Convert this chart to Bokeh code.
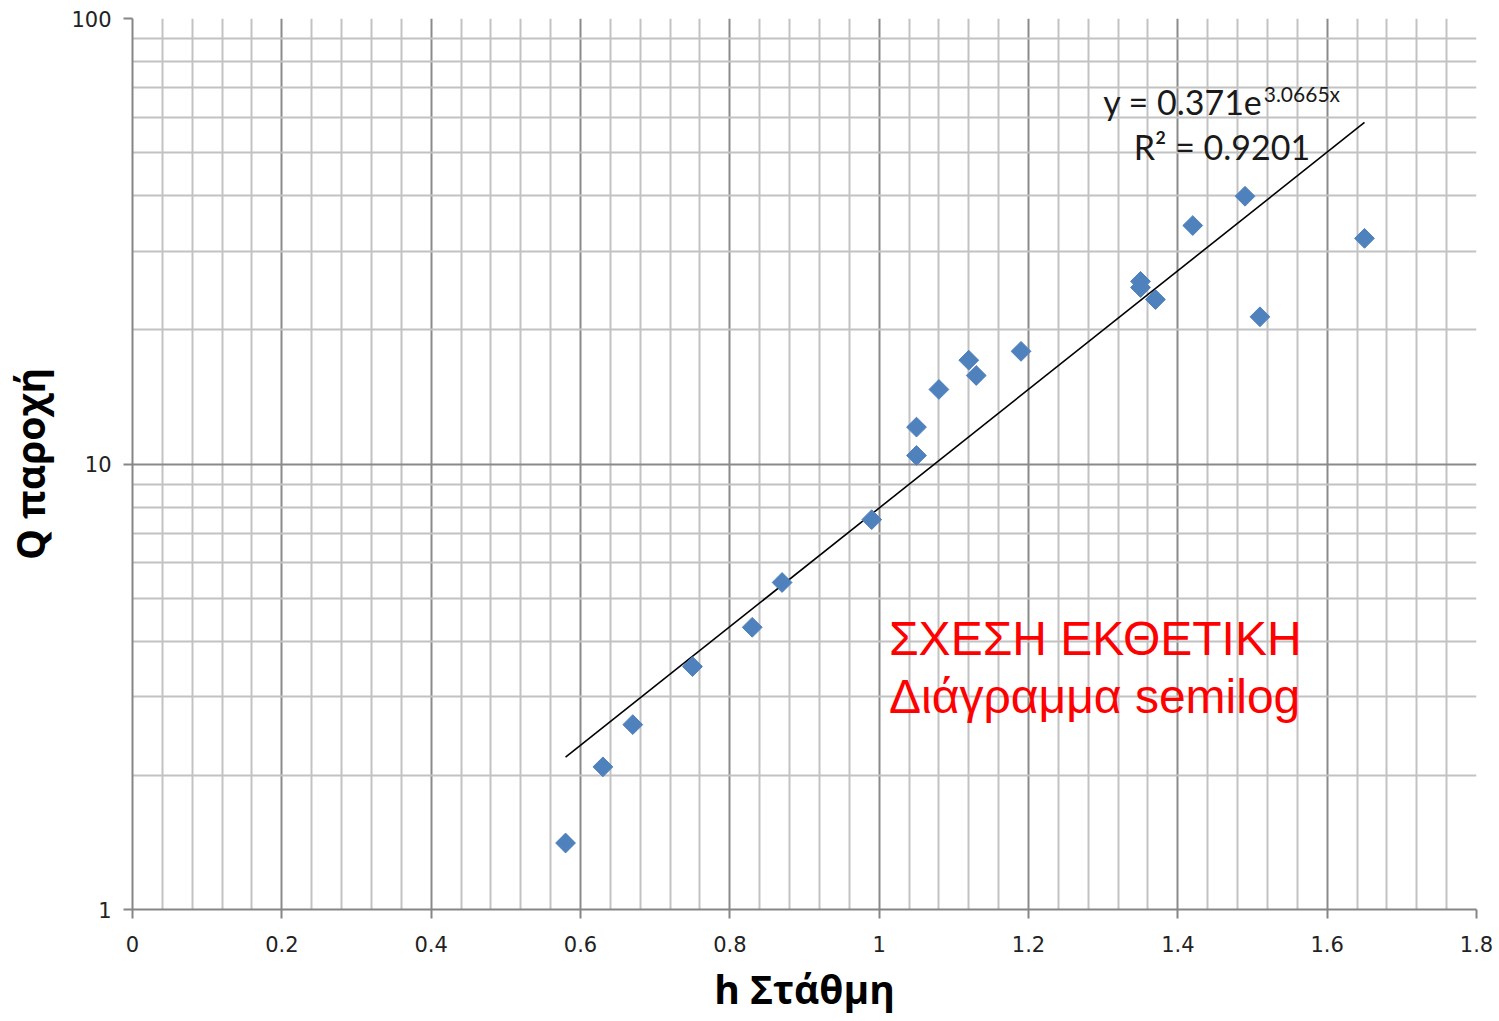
import numpy as np
from bokeh.plotting import figure
from bokeh.models import Range1d, FixedTicker, Label
from bokeh.embed import file_html
from bokeh.resources import INLINE

# ---- data ----
h_values = [0.58, 0.63, 0.67, 0.75, 0.83, 0.87, 0.99, 1.05, 1.05, 1.08,
            1.12, 1.13, 1.19, 1.35, 1.35, 1.37, 1.42, 1.49, 1.51, 1.65]
q_values = [1.41, 2.09, 2.60, 3.51, 4.30, 5.42, 7.50, 10.45, 12.1, 14.7,
            17.1, 15.8, 17.9, 25.7, 24.9, 23.4, 34.3, 39.9, 21.4, 32.1]

# exponential trendline shown on the chart: y = 0.371 e^(3.0665 x)
trend_a = 0.371
trend_b = 3.0665
trend_x = [0.58, 1.65]
trend_y = [trend_a * np.exp(trend_b * x) for x in trend_x]

x_ticks = [0, 0.2, 0.4, 0.6, 0.8, 1, 1.2, 1.4, 1.6, 1.8]
x_tick_labels = ["0", "0.2", "0.4", "0.6", "0.8", "1", "1.2", "1.4", "1.6", "1.8"]
x_minor = [0.04, 0.08, 0.12, 0.16, 0.24, 0.28, 0.32, 0.36, 0.44, 0.48, 0.52, 0.56,
           0.64, 0.68, 0.72, 0.76, 0.84, 0.88, 0.92, 0.96, 1.04, 1.08, 1.12, 1.16,
           1.24, 1.28, 1.32, 1.36, 1.44, 1.48, 1.52, 1.56, 1.64, 1.68, 1.72, 1.76]
y_ticks = [1, 10, 100]
y_tick_labels = ["1", "10", "100"]
y_minor = [2, 3, 4, 5, 6, 7, 8, 9, 20, 30, 40, 50, 60, 70, 80, 90]

eq_main = "y = 0.371e"
eq_sup = "3.0665x"
eq_r2 = "R² = 0.9201"
note_1 = "ΣΧΕΣΗ ΕΚΘΕΤΙΚΗ"
note_2 = "Διάγραμμα semilog"
x_title = "h Στάθμη"
y_title = "Q παροχή"

# ---- figure ----
p = figure(width=1495, height=1020, y_axis_type="log",
           x_range=Range1d(0, 1.8), y_range=Range1d(1, 100),
           output_backend="svg", toolbar_location=None,
           min_border_left=131, min_border_right=19,
           min_border_top=18, min_border_bottom=111)
p.outline_line_color = None
p.background_fill_color = "white"
p.border_fill_color = "white"

xt = FixedTicker(ticks=x_ticks, minor_ticks=x_minor)
yt = FixedTicker(ticks=y_ticks, minor_ticks=y_minor)
p.xaxis.ticker = xt
p.yaxis.ticker = yt
p.xgrid.ticker = xt
p.ygrid.ticker = yt

for g in (p.xgrid, p.ygrid):
    g.grid_line_color = "#8a8a8a"
    g.grid_line_width = 2
    g.minor_grid_line_color = "#c2c2c2"
    g.minor_grid_line_width = 2

p.xaxis.major_label_overrides = dict(zip(x_ticks, x_tick_labels))
p.yaxis.major_label_overrides = dict(zip(y_ticks, y_tick_labels))

for ax in (p.xaxis, p.yaxis):
    ax.axis_line_color = "#868686"
    ax.axis_line_width = 2
    ax.major_tick_line_color = "#868686"
    ax.major_tick_line_width = 2
    ax.major_tick_out = 9
    ax.major_tick_in = 0
    ax.minor_tick_out = 0
    ax.minor_tick_in = 0
    ax.major_label_text_font = "DejaVu Sans"
    ax.major_label_text_font_size = "21px"
    ax.major_label_text_color = "#222222"
    ax.axis_label_text_font = "Open Sans"
    ax.axis_label_text_font_style = "bold"
    ax.axis_label_text_font_size = "39px"
    ax.axis_label_text_color = "black"

p.xaxis.axis_label = x_title
p.yaxis.axis_label = y_title
p.xaxis.major_label_standoff = 17
p.yaxis.major_label_standoff = 12
p.xaxis.axis_label_standoff = 7
p.yaxis.axis_label_standoff = 12

# trendline and points
p.line(trend_x, trend_y, line_color="black", line_width=1.6)
p.scatter(h_values, q_values, marker="square", angle=np.pi / 4, size=14,
          fill_color="#4F81BD", line_color="#4F81BD")

# equation labels
p.add_layout(Label(x=1.5136, y=65.1, text=eq_main, text_align="right",
                   text_baseline="alphabetic", text_font="Lato",
                   text_font_size="34px", text_color="#1a1a1a"))
p.add_layout(Label(x=1.5150, y=67.7, text=eq_sup, text_align="left",
                   text_baseline="alphabetic", text_font="Lato",
                   text_font_size="21px", text_color="#1a1a1a"))
p.add_layout(Label(x=1.341, y=51.6, text=eq_r2, text_align="left",
                   text_baseline="alphabetic", text_font="Lato",
                   text_font_size="34px", text_color="#1a1a1a"))

# red notes
p.add_layout(Label(x=1.0131, y=4.06, text=note_1, text_align="left",
                   text_baseline="alphabetic", text_font="Liberation Sans",
                   text_font_size="48px", text_color="#ff0000"))
p.add_layout(Label(x=1.0131, y=3.006, text=note_2, text_align="left",
                   text_baseline="alphabetic", text_font="Liberation Sans",
                   text_font_size="48px", text_color="#ff0000"))

open("out.html", "w").write(file_html(p, INLINE))
